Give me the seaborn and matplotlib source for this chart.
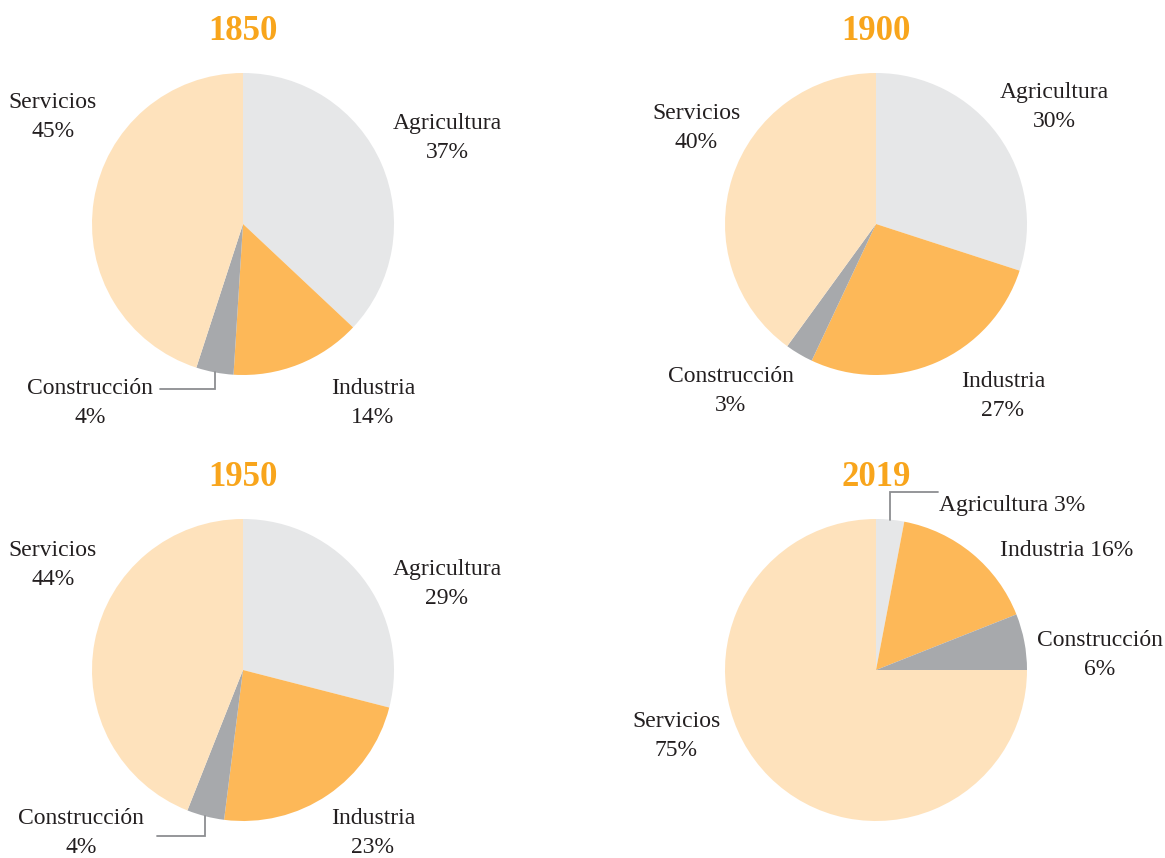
import numpy as np
import seaborn as sns
import matplotlib.pyplot as plt

sns.set_theme(style="white")
plt.rcParams['font.family'] = ['Liberation Serif', 'DejaVu Serif']

# data
years = ["1850", "1900", "1950", "2019"]
sectors = ["Agricultura", "Industria", "Construcción", "Servicios"]
shares_1850 = [37, 14, 4, 45]
shares_1900 = [30, 27, 3, 40]
shares_1950 = [29, 23, 4, 44]
shares_2019 = [3, 16, 6, 75]
shares = [shares_1850, shares_1900, shares_1950, shares_2019]

colors = ["#E6E7E8", "#FDB858", "#A7A9AC", "#FEE2BC"]
title_color = "#F8A51C"
text_color = "#231F20"

W, H = 1165, 858
R = 151
# pie centers (pixels from top-left)
centers = [(243, 224), (876, 224), (243, 670), (876, 670)]
title_y = [32, 32, 477, 477]

# label positions (pixels, center of text block)
label_pos = {
    "1850": {"Agricultura": (447, 138), "Industria": (373, 403),
             "Construcción": (90, 403), "Servicios": (53, 117)},
    "1900": {"Agricultura": (1054, 107), "Industria": (1003, 396),
             "Construcción": (731, 391), "Servicios": (696, 128)},
    "1950": {"Agricultura": (447, 584), "Industria": (373, 833),
             "Construcción": (81, 833), "Servicios": (53, 565)},
    "2019": {"Agricultura": (1012, 505), "Industria": (1067, 550),
             "Construcción": (1100, 655), "Servicios": (676, 736)},
}
single_line = {"2019": ["Agricultura", "Industria"]}
leaders = {
    ("1850", "Construcción"): (160, 389),
    ("1950", "Construcción"): (157, 836),
    ("2019", "Agricultura"): (938, 492),
}

fig = plt.figure(figsize=(W / 100, H / 100), dpi=100)
ax = fig.add_axes([0, 0, 1, 1])


def Y(y):
    return H - y


for year, vals, (cx, cy), ty in zip(years, shares, centers, title_y):
    wedges, _ = ax.pie(vals, colors=colors, startangle=90, counterclock=False,
                       center=(cx, Y(cy)), radius=R,
                       wedgeprops=dict(linewidth=0))
    ax.text(cx, Y(ty), year, ha='center', va='center', fontsize=25,
            fontweight='bold', color=title_color)
    for sec, v, w in zip(sectors, vals, wedges):
        lx, ly = label_pos[year][sec]
        if sec in single_line.get(year, []):
            txt = f"{sec} {v}%"
        else:
            txt = f"{sec}\n{v}%"
        ax.text(lx, Y(ly), txt, ha='center', va='center', fontsize=17,
                color=text_color, linespacing=1.5)
        if (year, sec) in leaders:
            ex, ey = leaders[(year, sec)]
            mid = np.deg2rad((w.theta1 + w.theta2) / 2)
            px = cx + R * np.cos(mid)
            py = Y(cy) + R * np.sin(mid)
            ax.plot([ex, px, px], [Y(ey), Y(ey), py], color="#8C8E91",
                    lw=1.3, solid_joinstyle='miter')

ax.set_xlim(0, W)
ax.set_ylim(0, H)
ax.set_aspect('equal')
ax.axis('off')

fig.savefig("out.png", dpi=100)
